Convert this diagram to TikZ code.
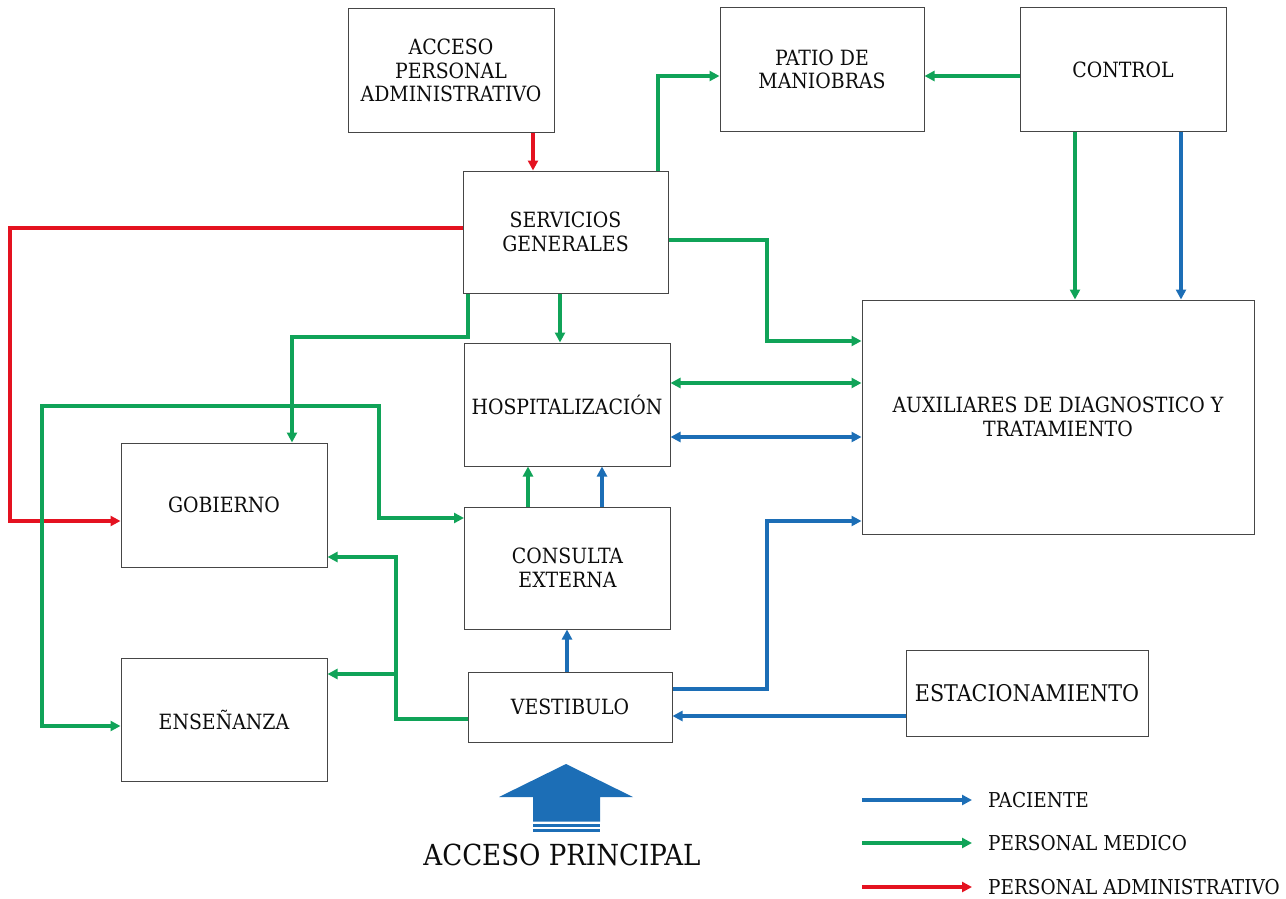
\documentclass[tikz,border=0pt]{standalone}
\usepackage{fontspec}
\setmainfont{DejaVu Serif Condensed}
\usetikzlibrary{arrows.meta}

\definecolor{pacblue}{RGB}{28,110,182}
\definecolor{medgreen}{RGB}{16,163,88}
\definecolor{admred}{RGB}{228,18,32}
\definecolor{boxline}{RGB}{70,70,70}
\definecolor{ink}{RGB}{12,12,12}

\tikzset{
  x=1pt, y=-1pt,
  area/.style={draw=boxline, line width=1pt, inner sep=0pt, align=center,
    text=ink, font=\fontsize{21}{23.5}\selectfont},
  flow/.style={line width=3.5pt, -{Triangle[length=10pt,width=10pt]}},
  bothflow/.style={line width=3.5pt, {Triangle[length=10pt,width=10pt]}-{Triangle[length=10pt,width=10pt]}},
  paciente/.style={flow, draw=pacblue},
  medico/.style={flow, draw=medgreen},
  admin/.style={flow, draw=admred},
  legendtext/.style={anchor=west, inner sep=0pt, text=ink, font=\fontsize{20.5}{23}\selectfont},
}

\begin{document}
\begin{tikzpicture}
\useasboundingbox (0,0) rectangle (1286,899);

% --- areas ---
\node[area, minimum width=206pt, minimum height=123pt] (acc)  at (451,70.5)  {ACCESO\\PERSONAL\\ADMINISTRATIVO};
\node[area, minimum width=204pt, minimum height=123pt] (patio) at (822,69.5) {PATIO DE\\MANIOBRAS};
\node[area, minimum width=206pt, minimum height=123pt] (ctrl) at (1123,69.5) {CONTROL};
\node[area, minimum width=205pt, minimum height=122pt] (serv) at (565.5,232) {SERVICIOS\\GENERALES};
\node[area, minimum width=206pt, minimum height=123pt] (hosp) at (567,404.5) {HOSPITALIZACIÓN};
\node[area, minimum width=392pt, minimum height=234pt] (aux)  at (1058,417) {AUXILIARES DE DIAGNOSTICO Y\\TRATAMIENTO};
\node[area, minimum width=206pt, minimum height=124pt] (gob)  at (224,505)   {GOBIERNO};
\node[area, minimum width=206pt, minimum height=122pt] (cons) at (567.5,568) {CONSULTA\\EXTERNA};
\node[area, minimum width=206pt, minimum height=123pt] (ens)  at (224,719.5) {ENSEÑANZA};
\node[area, minimum width=204pt, minimum height=70pt]  (vest) at (570,707)   {VESTIBULO};
\node[area, minimum width=242pt, minimum height=86pt, font=\fontsize{23}{26}\selectfont] (est) at (1027,693) {ESTACIONAMIENTO};

% --- personal administrativo ---
\draw[admin] (533,0 |- acc.south) -- (533,0 |- serv.north);
\draw[admin] (serv.west |- 0,228) -| (10,521) -- (gob.west |- 0,521);

% --- personal medico ---
\draw[medico] (658,0 |- serv.north) |- (patio.west |- 0,76);
\draw[medico] (ctrl.west |- 0,76) -- (patio.east |- 0,76);
\draw[medico] (1075,0 |- ctrl.south) -- (1075,0 |- aux.north);
\draw[medico] (serv.east |- 0,240) -| (767,341) -- (aux.west |- 0,341);
\draw[medico] (560,0 |- serv.south) -- (560,0 |- hosp.north);
\draw[medico] (468,0 |- serv.south) |- (292,337) -- (292,0 |- gob.north);
\draw[bothflow, draw=medgreen] (hosp.east |- 0,383) -- (aux.west |- 0,383);
\draw[bothflow, draw=medgreen] (ens.west |- 0,726) -| (42,406) -| (379,518) -- (cons.west |- 0,518);
\draw[medico] (528,0 |- cons.north) -- (528,0 |- hosp.south);
\draw[medico] (vest.west |- 0,719) -| (396,557) -- (gob.east |- 0,557);
\coordinate (branch) at (396,674);
\draw[medico] (branch) -- (ens.east |- branch);

% --- paciente ---
\draw[paciente] (1181,0 |- ctrl.south) -- (1181,0 |- aux.north);
\draw[bothflow, draw=pacblue] (hosp.east |- 0,437) -- (aux.west |- 0,437);
\draw[paciente] (602,0 |- cons.north) -- (602,0 |- hosp.south);
\draw[paciente] (567,0 |- vest.north) -- (567,0 |- cons.south);
\draw[paciente] (vest.east |- 0,689) -| (767,521) -- (aux.west |- 0,521);
\draw[paciente] (est.west |- 0,716) -- (vest.east |- 0,716);

% --- main entrance arrow ---
\fill[pacblue] (499,797) -- (566,764) -- (633,797) -- (600,797) -- (600,821.5)
  -- (533,821.5) -- (533,797) -- cycle;
\fill[pacblue] (533,823.5) rectangle (600,826.5);
\fill[pacblue] (533,828.5) rectangle (600,832);
\node[inner sep=0pt, text=ink, font=\fontsize{29}{32}\selectfont] (acceso) at (562,855) {ACCESO PRINCIPAL};

% --- legend ---
\coordinate (pa) at (862,800);  \coordinate (pb) at (972,800);
\coordinate (ma) at (862,843);  \coordinate (mb) at (972,843);
\coordinate (ra) at (862,887);  \coordinate (rb) at (972,887);
\draw[paciente] (pa) -- (pb);
\draw[medico] (ma) -- (mb);
\draw[admin] (ra) -- (rb);
\node[legendtext] (lpac) at (988,800) {PACIENTE};
\node[legendtext] (lmed) at (988,843) {PERSONAL MEDICO};
\node[legendtext] (ladm) at (988,887) {PERSONAL ADMINISTRATIVO};
\end{tikzpicture}
\end{document}
